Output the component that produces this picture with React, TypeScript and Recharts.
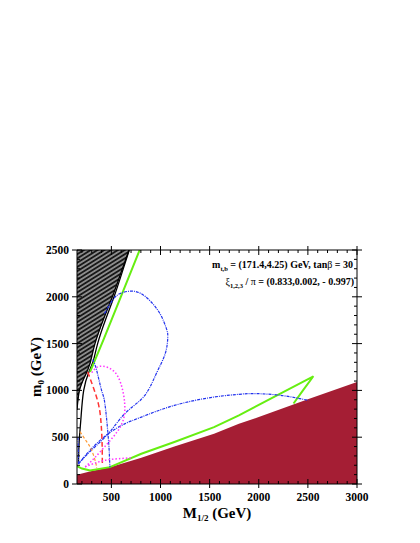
import React from 'react';
import { ComposedChart, Area, Line, XAxis, YAxis } from 'recharts';

// ---- tick labels ----
const xMajorTicks = [500, 1000, 1500, 2000, 2500, 3000];
const yMajorTicks = [0, 500, 1000, 1500, 2000, 2500];
const xTicks = [200, 300, 400, 500, 600, 700, 800, 900, 1000, 1100, 1200, 1300, 1400, 1500, 1600, 1700, 1800, 1900, 2000, 2100, 2200, 2300, 2400, 2500, 2600, 2700, 2800, 2900, 3000];
const yTicks = [0, 100, 200, 300, 400, 500, 600, 700, 800, 900, 1000, 1100, 1200, 1300, 1400, 1500, 1600, 1700, 1800, 1900, 2000, 2100, 2200, 2300, 2400, 2500];

// ---- excluded regions ----
const redRegion = [
  { x: 150, y: 100 }, { x: 300, y: 140 }, { x: 485, y: 180 }, { x: 805, y: 280 },
  { x: 1141, y: 401 }, { x: 1545, y: 537 }, { x: 1798, y: 644 }, { x: 2000, y: 715 },
  { x: 2500, y: 905 }, { x: 3000, y: 1090 },
];
const hatchRegion = [
  { x: 150, lo: 790, hi: 2500 }, { x: 175, lo: 1000, hi: 2500 }, { x: 230, lo: 1150, hi: 2500 },
  { x: 283, lo: 1290, hi: 2500 }, { x: 333, lo: 1500, hi: 2500 }, { x: 420, lo: 1760, hi: 2500 },
  { x: 510, lo: 2000, hi: 2500 }, { x: 595, lo: 2250, hi: 2500 }, { x: 680, lo: 2500, hi: 2500 },
];

// ---- contours ----
const blackInner = [
  { x: 150, y: 790 }, { x: 175, y: 1000 }, { x: 230, y: 1150 }, { x: 283, y: 1290 }, { x: 333, y: 1500 },
  { x: 420, y: 1760 }, { x: 510, y: 2000 }, { x: 595, y: 2250 }, { x: 680, y: 2500 },
];
const blackOuter = [
  { x: 165, y: 216 }, { x: 172, y: 450 }, { x: 190, y: 700 }, { x: 218, y: 1000 }, { x: 272, y: 1200 },
  { x: 318, y: 1322 }, { x: 360, y: 1500 }, { x: 442, y: 1760 }, { x: 527, y: 2000 }, { x: 606, y: 2250 },
  { x: 682, y: 2500 },
];
const greenUpper = [
  { x: 788, y: 2500 }, { x: 600, y: 2010 }, { x: 418, y: 1536 }, { x: 283, y: 1197 },
];
const greenLower = [
  { x: 150, y: 190 }, { x: 200, y: 165 }, { x: 283, y: 145 }, { x: 485, y: 180 }, { x: 805, y: 323 },
  { x: 1141, y: 448 }, { x: 1545, y: 608 }, { x: 1798, y: 733 }, { x: 2200, y: 955 }, { x: 2556, y: 1151 },
  { x: 2450, y: 1000 }, { x: 2354, y: 860 },
];
const blueLoop = [
  { x: 430, y: 1820 }, { x: 520, y: 1975 }, { x: 600, y: 2040 }, { x: 704, y: 2061 }, { x: 800, y: 2035 },
  { x: 900, y: 1950 }, { x: 1000, y: 1810 }, { x: 1060, y: 1660 }, { x: 1074, y: 1572 }, { x: 1050, y: 1400 },
  { x: 973, y: 1215 }, { x: 900, y: 1050 }, { x: 800, y: 900 }, { x: 636, y: 751 }, { x: 468, y: 537 },
  { x: 300, y: 365 }, { x: 165, y: 216 },
];
const blueArc = [
  { x: 165, y: 216 }, { x: 300, y: 380 }, { x: 468, y: 537 }, { x: 640, y: 645 }, { x: 805, y: 715 },
  { x: 1141, y: 840 }, { x: 1545, y: 929 }, { x: 1798, y: 958 }, { x: 1932, y: 966 }, { x: 2200, y: 950 },
  { x: 2505, y: 894 },
];
const blueVertical = [
  { x: 310, y: 1330 }, { x: 350, y: 1215 }, { x: 400, y: 1000 }, { x: 434, y: 858 }, { x: 468, y: 501 },
  { x: 480, y: 300 }, { x: 485, y: 180 },
];
const blueLeft = [{ x: 160, y: 500 }, { x: 163, y: 350 }, { x: 165, y: 216 }];
const redDashed = [
  { x: 259, y: 1197 }, { x: 300, y: 1080 }, { x: 367, y: 858 }, { x: 395, y: 650 }, { x: 405, y: 450 },
  { x: 408, y: 220 },
];
const orangeDashed = [
  { x: 180, y: 560 }, { x: 250, y: 450 }, { x: 300, y: 360 }, { x: 340, y: 230 }, { x: 350, y: 170 },
];
const magentaArc = [
  { x: 300, y: 1190 }, { x: 350, y: 1245 }, { x: 417, y: 1258 }, { x: 500, y: 1225 }, { x: 569, y: 1144 },
  { x: 615, y: 1000 }, { x: 636, y: 850 }, { x: 625, y: 700 }, { x: 560, y: 560 }, { x: 450, y: 420 },
  { x: 330, y: 280 }, { x: 232, y: 180 },
];
const magentaLower = [
  { x: 232, y: 185 }, { x: 333, y: 223 }, { x: 468, y: 259 }, { x: 704, y: 280 },
];

const FONT = '"Liberation Serif", "DejaVu Serif", serif';

const XTickBottom = (props: any) => {
  const { x, y, payload } = props;
  const v = payload.value;
  const major = xMajorTicks.includes(v);
  return (
    <g>
      <line x1={x} y1={y} x2={x} y2={y - (major ? 5 : 3)} stroke="#000" />
      {major ? <line x1={x} y1={y} x2={x} y2={y + 4} stroke="#000" /> : null}
      {major ? (
        <text x={x} y={y + 17} textAnchor="middle" fontFamily={FONT} fontWeight="bold" fontSize={11.5} fill="#000">{v}</text>
      ) : null}
    </g>
  );
};
const XTickTop = (props: any) => {
  const { x, y, payload } = props;
  const major = xMajorTicks.includes(payload.value);
  return (
    <g>
      <line x1={x} y1={y} x2={x} y2={y + (major ? 5 : 3)} stroke="#000" />
      {major ? <line x1={x} y1={y} x2={x} y2={y - 4} stroke="#000" /> : null}
    </g>
  );
};
const YTickLeft = (props: any) => {
  const { x, y, payload } = props;
  const v = payload.value;
  const major = yMajorTicks.includes(v);
  return (
    <g>
      <line x1={x} y1={y} x2={x + (major ? 5 : 3)} y2={y} stroke="#000" />
      {major ? <line x1={x} y1={y} x2={x - 5} y2={y} stroke="#000" /> : null}
      {major ? (
        <text x={x - 8} y={y + 4} textAnchor="end" fontFamily={FONT} fontWeight="bold" fontSize={11.5} fill="#000">{v}</text>
      ) : null}
    </g>
  );
};
const YTickRight = (props: any) => {
  const { x, y, payload } = props;
  const major = yMajorTicks.includes(payload.value);
  return (
    <g>
      <line x1={x} y1={y} x2={x - (major ? 5 : 3)} y2={y} stroke="#000" />
      {major ? <line x1={x} y1={y} x2={x + 5} y2={y} stroke="#000" /> : null}
    </g>
  );
};

const lineCommon = { dot: false, activeDot: false, isAnimationActive: false, dataKey: 'y' } as any;
const BLUE_DASH = '3 1 1 1';

export default function App() {
  return (
    <div style={{ position: 'absolute', left: 0, top: 0, width: 420, height: 543, background: '#fff' }}>
      <ComposedChart width={420} height={543} margin={{ top: 240, right: 53, bottom: 29, left: 27 }}>
        <defs>
          <pattern id="hatch" width="6" height="3.6" patternUnits="userSpaceOnUse" patternTransform="rotate(-32)">
            <rect width="6" height="3.6" fill="#8c8c8c" />
            <line x1="0" y1="0.9" x2="6" y2="0.9" stroke="#111" strokeWidth="1.7" />
          </pattern>
        </defs>
        <XAxis xAxisId={0} dataKey="x" type="number" domain={[150, 3000]} allowDataOverflow ticks={xTicks}
          interval={0} tickSize={0} tickMargin={0} tick={<XTickBottom />} height={30} axisLine={{ stroke: '#000' }} />
        <XAxis xAxisId="top" orientation="top" dataKey="x" type="number" domain={[150, 3000]} allowDataOverflow
          ticks={xTicks} interval={0} tickSize={0} tickMargin={0} tick={<XTickTop />} height={10} axisLine={{ stroke: '#000' }} />
        <YAxis yAxisId={0} type="number" domain={[0, 2500]} allowDataOverflow ticks={yTicks} interval={0}
          tickSize={0} tickMargin={0} tick={<YTickLeft />} width={50} axisLine={{ stroke: '#000' }} />
        <YAxis yAxisId="right" orientation="right" type="number" domain={[0, 2500]} allowDataOverflow ticks={yTicks}
          interval={0} tickSize={0} tickMargin={0} tick={<YTickRight />} width={10} axisLine={{ stroke: '#000' }} />

        <Area data={redRegion} dataKey="y" type="linear" fill="#A51E34" fillOpacity={1} stroke="none"
          isAnimationActive={false} dot={false} activeDot={false} baseValue={0} />
        <Area data={hatchRegion} dataKey={(d: any) => [d.lo, d.hi]} type="linear" fill="url(#hatch)" fillOpacity={1}
          stroke="none" isAnimationActive={false} dot={false} activeDot={false} />

        <Line {...lineCommon} data={blackInner} type="natural" stroke="#000" strokeWidth={1.3} />
        <Line {...lineCommon} data={blackOuter} type="natural" stroke="#000" strokeWidth={1.3} />
        <Line {...lineCommon} data={greenUpper} type="linear" stroke="#66EE11" strokeWidth={2} />
        <Line {...lineCommon} data={greenLower} type="linear" stroke="#66EE11" strokeWidth={2} />
        <Line {...lineCommon} data={blueLoop} type="natural" stroke="#2233EE" strokeWidth={1.2} strokeDasharray={BLUE_DASH} />
        <Line {...lineCommon} data={blueArc} type="natural" stroke="#2233EE" strokeWidth={1.2} strokeDasharray={BLUE_DASH} />
        <Line {...lineCommon} data={blueVertical} type="natural" stroke="#2233EE" strokeWidth={1.2} strokeDasharray={BLUE_DASH} />
        <Line {...lineCommon} data={blueLeft} type="linear" stroke="#2233EE" strokeWidth={1.2} strokeDasharray={BLUE_DASH} />
        <Line {...lineCommon} data={redDashed} type="natural" stroke="#FF3333" strokeWidth={1.5} strokeDasharray="5 3" />
        <Line {...lineCommon} data={orangeDashed} type="natural" stroke="#FF9933" strokeWidth={1.2} strokeDasharray="3 2" />
        <Line {...lineCommon} data={magentaArc} type="natural" stroke="#FF33FF" strokeWidth={1.5} strokeDasharray="1.5 2" />
        <Line {...lineCommon} data={magentaLower} type="natural" stroke="#FF33FF" strokeWidth={1.5} strokeDasharray="1.5 2" />

        <text x={353} y={268} textAnchor="end" fontFamily={FONT} fontWeight="bold" fontSize={10} fill="#000">
          m<tspan fontSize={6.5} dy={3}>t,b</tspan><tspan dy={-3}> = (171.4,4.25) GeV,  tan</tspan><tspan fontWeight="normal">β</tspan><tspan> = 30</tspan>
        </text>
        <text x={354} y={285} textAnchor="end" fontFamily={FONT} fontWeight="bold" fontSize={10} fill="#000">
          <tspan fontWeight="normal">ξ</tspan><tspan fontSize={6.5} dy={3}>1,2,3</tspan><tspan dy={-3}> / </tspan><tspan fontWeight="normal">π</tspan><tspan> = (0.833,0.002, - 0.997)</tspan>
        </text>
        <text x={217} y={518} textAnchor="middle" fontFamily={FONT} fontWeight="bold" fontSize={15} fill="#000">
          M<tspan fontSize={9} dy={3}>1/2</tspan><tspan dy={-3}> (GeV)</tspan>
        </text>
        <text x={41} y={367} textAnchor="middle" transform="rotate(-90 41 367)" fontFamily={FONT} fontWeight="bold" fontSize={15} fill="#000">
          m<tspan fontSize={9} dy={3}>0</tspan><tspan dy={-3}> (GeV)</tspan>
        </text>
      </ComposedChart>
    </div>
  );
}
